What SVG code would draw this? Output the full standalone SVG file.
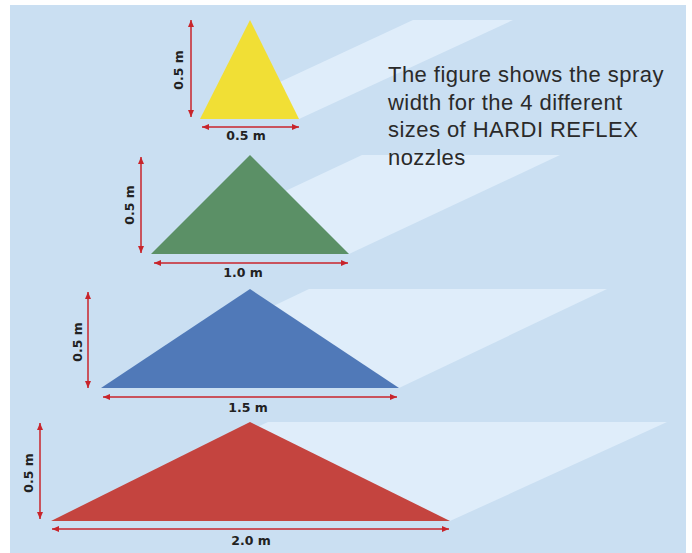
<svg xmlns="http://www.w3.org/2000/svg" width="692" height="553" viewBox="0 0 692 553">
<style>
.band{fill:#dfedfa}
.dim{stroke:#c8242b;stroke-width:1.5;fill:none}
.lbl{font-family:"DejaVu Sans","Liberation Sans",sans-serif;font-weight:bold;font-size:12.5px;fill:#222;text-anchor:middle}
.body{font-family:"Liberation Sans",Arial,sans-serif;font-size:22px;letter-spacing:0.45px;fill:#2a2a2a}
</style>
<defs>
<marker id="ah" viewBox="0 0 10 10" refX="10" refY="5" markerWidth="7" markerHeight="6" markerUnits="userSpaceOnUse" orient="auto-start-reverse" preserveAspectRatio="none">
<path d="M0,0 L10,5 L0,10 Z" fill="#c8242b"/>
</marker>
</defs>
<rect x="10" y="5" width="676" height="548" fill="#cadff2"/>
<g id="bands">
<polygon class="band" points="200,119 299,119 513,20 413,20"/>
<polygon class="band" points="151,254 349,254 560,155 362,155"/>
<polygon class="band" points="101,388 399,388 607,289 309,289"/>
<polygon class="band" points="51,521 450,521 667,422 268,422"/>
</g>
<g id="yellow"><polygon points="250,20 200,119 299,119" fill="#f1df35"/></g>
<g id="green"><polygon points="250,155 151,254 349,254" fill="#5b9066"/></g>
<g id="blue"><polygon points="250,289 101,388 399,388" fill="#5079b8"/></g>
<g id="red"><polygon points="250,422 51,521 450,521" fill="#c4443f"/></g>
<g id="connectors">
<line class="dim" x1="191" y1="20" x2="191" y2="117" marker-start="url(#ah)" marker-end="url(#ah)"/>
<line class="dim" x1="202" y1="127" x2="299" y2="127" marker-start="url(#ah)" marker-end="url(#ah)"/>
<line class="dim" x1="141" y1="157" x2="141" y2="253" marker-start="url(#ah)" marker-end="url(#ah)"/>
<line class="dim" x1="154" y1="263" x2="348" y2="263" marker-start="url(#ah)" marker-end="url(#ah)"/>
<line class="dim" x1="88" y1="292" x2="88" y2="388" marker-start="url(#ah)" marker-end="url(#ah)"/>
<line class="dim" x1="103" y1="397" x2="397" y2="397" marker-start="url(#ah)" marker-end="url(#ah)"/>
<line class="dim" x1="40" y1="423" x2="40" y2="519" marker-start="url(#ah)" marker-end="url(#ah)"/>
<line class="dim" x1="52" y1="529" x2="449" y2="529" marker-start="url(#ah)" marker-end="url(#ah)"/>
</g>
<g id="labels">
<text class="lbl" transform="translate(183,70) rotate(-90)">0.5 m</text>
<text class="lbl" x="246" y="140">0.5 m</text>
<text class="lbl" transform="translate(134,205) rotate(-90)">0.5 m</text>
<text class="lbl" x="243" y="277">1.0 m</text>
<text class="lbl" transform="translate(82,342) rotate(-90)">0.5 m</text>
<text class="lbl" x="248" y="412">1.5 m</text>
<text class="lbl" transform="translate(33,473) rotate(-90)">0.5 m</text>
<text class="lbl" x="251" y="545">2.0 m</text>
</g>
<g id="caption">
<text class="body" x="388" y="82">The figure shows the spray</text>
<text class="body" x="388" y="109.5">width for the 4 different</text>
<text class="body" x="388" y="137">sizes of HARDI REFLEX</text>
<text class="body" x="388" y="164.5">nozzles</text>
</g>
</svg>
